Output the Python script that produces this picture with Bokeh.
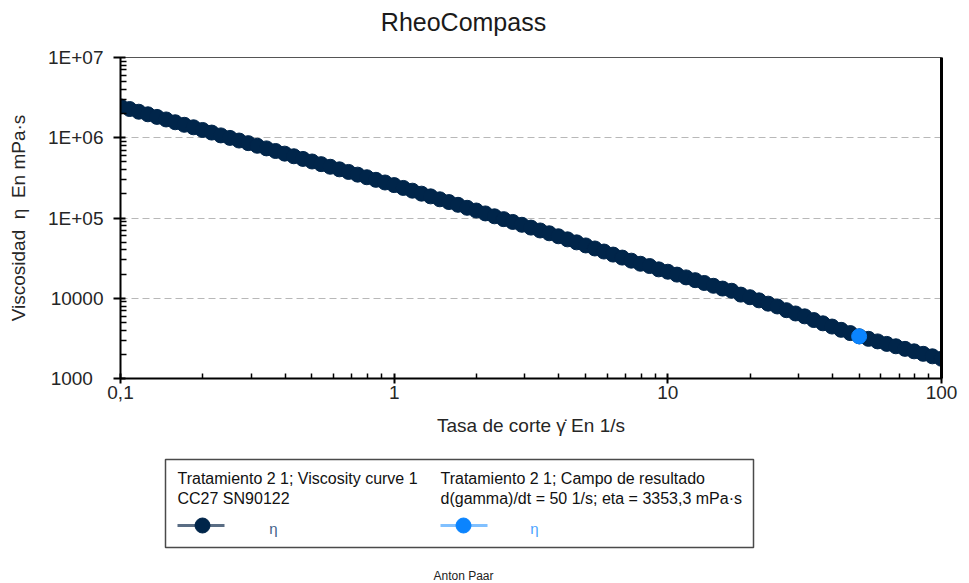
from bokeh.plotting import figure
from bokeh.models import FixedTicker, LogAxis, Range1d
from bokeh.layouts import column
from bokeh.core.properties import value
from bokeh.embed import file_html
from bokeh.resources import INLINE

# ---- data ----
shear_rate = [
    0.1, 0.108, 0.1166, 0.1259, 0.1359, 0.1468, 0.1585, 0.1711, 0.1848, 0.1995,
    0.2154, 0.2326, 0.2512, 0.2712, 0.2929, 0.3162, 0.3415, 0.3687, 0.3981, 0.4299,
    0.4642, 0.5012, 0.5412, 0.5843, 0.631, 0.6813, 0.7356, 0.7943, 0.8577, 0.9261,
    1.0, 1.08, 1.166, 1.259, 1.359, 1.468, 1.585, 1.711, 1.848, 1.995,
    2.154, 2.326, 2.512, 2.712, 2.929, 3.162, 3.415, 3.687, 3.981, 4.299,
    4.642, 5.012, 5.412, 5.843, 6.31, 6.813, 7.356, 7.943, 8.577, 9.261,
    10.0, 10.8, 11.66, 12.59, 13.59, 14.68, 15.85, 17.11, 18.48, 19.95,
    21.54, 23.26, 25.12, 27.12, 29.29, 31.62, 34.15, 36.87, 39.81, 42.99,
    46.42, 50.12, 54.12, 58.43, 63.1, 68.13, 73.56, 79.43, 85.77, 92.61, 100.0,
]
viscosity = [
    2460000, 2280000, 2110000, 1960000, 1820000, 1690000, 1560000, 1450000, 1350000, 1250000,
    1160000, 1070000, 996000, 923000, 857000, 794000, 737000, 684000, 634000, 588000,
    545000, 506000, 469000, 435000, 404000, 375000, 347000, 322000, 299000, 277000,
    257000, 237000, 219000, 201000, 186000, 171000, 158000, 146000, 134000, 124000,
    114000, 105000, 96800, 89300, 82300, 75900, 69900, 64500, 59200, 54200,
    49700, 45500, 41700, 38200, 35000, 32100, 29400, 26900, 25200, 22900,
    21400, 19700, 18200, 16800, 15500, 14300, 13200, 12400, 11100, 10300,
    9410, 8560, 7900, 7100, 6460, 5950, 5350, 4870, 4440, 4040,
    3680, 3350, 3120, 2900, 2700, 2520, 2340, 2180, 2030, 1890, 1760,
]
result_rate = [50.0]
result_visc = [3353.3]

x_ticks = [0.1, 1, 10, 100]
x_tick_labels = ["0,1", "1", "10", "100"]
y_ticks = [1000, 10000, 100000, 1000000, 10000000]
y_tick_labels = ["1000\u2007", "10000", "1E+05", "1E+06", "1E+07"]

title_text = "RheoCompass"
x_label = "Tasa de corte γ̇ En 1/s"
y_label = "Viscosidad\u00a0 η \u00a0En mPa·s"
legend_lines = ["Tratamiento 2 1; Viscosity curve 1", "CC27 SN90122",
                "Tratamiento 2 1; Campo de resultado",
                "d(gamma)/dt = 50 1/s; eta = 3353,3 mPa·s"]
legend_symbol = ["η", "η"]
footer = "Anton Paar"

NAVY = "#00254a"
BLUE = "#0b84fe"
FONT = "Liberation Sans"
TXT = "#262626"


def minor_for(ticks):
    out = []
    for t in ticks[:-1]:
        out += [t * m for m in range(2, 10)]
    return out


# ---- title strip (frame aligned with chart frame: x 120..941) ----
t = figure(width=969, height=45, x_range=Range1d(120, 941), y_range=Range1d(45, 0),
           output_backend="svg", toolbar_location=None, tools="",
           x_axis_location=None, y_axis_location=None, min_border=0)
t.grid.visible = False
t.outline_line_color = None
t.text(x=[463], y=[21], text=[title_text], text_font=value(FONT),
       text_font_size="25px", text_color="#1a1a1a", text_baseline="middle",
       text_align="center")

# ---- main chart ----
p = figure(width=969, height=400, x_axis_type="log", y_axis_type="log",
           x_range=Range1d(0.1, 100), y_range=Range1d(1000, 1e7),
           output_backend="svg", toolbar_location=None, tools="",
           min_border_left=120, min_border_right=28, min_border_top=12,
           min_border_bottom=67)
p.outline_line_color = "#555555"
p.outline_line_width = 1
p.background_fill_color = "white"
p.border_fill_color = "white"

xa = p.xaxis[0]
xa.ticker = FixedTicker(ticks=x_ticks, minor_ticks=minor_for(x_ticks))
xa.major_label_overrides = {v: l for v, l in zip(x_ticks, x_tick_labels)}
ya = p.yaxis[0]
ya.ticker = FixedTicker(ticks=y_ticks, minor_ticks=minor_for(y_ticks))
ya.major_label_overrides = {v: l for v, l in zip(y_ticks, y_tick_labels)}

for ax in (xa, ya):
    ax.axis_line_color = "black"
    ax.axis_line_width = 2
    ax.major_tick_line_color = "black"
    ax.major_tick_line_width = 2
    ax.minor_tick_line_color = "black"
    ax.minor_tick_line_width = 1.5
    ax.major_label_text_font = FONT
    ax.major_label_text_font_size = "19px"
    ax.major_label_text_color = TXT
    ax.axis_label_text_font = FONT
    ax.axis_label_text_font_size = "19px"
    ax.axis_label_text_font_style = "normal"
    ax.axis_label_text_color = TXT

xa.axis_label = x_label
xa.major_tick_out = 5
xa.major_tick_in = 5
xa.minor_tick_out = 0
xa.minor_tick_in = 5
xa.major_label_standoff = 2
xa.axis_label_standoff = 13

ya.axis_label = y_label
ya.major_tick_out = 7
ya.major_tick_in = 5
ya.minor_tick_out = 0
ya.minor_tick_in = 6
ya.major_label_standoff = 10
ya.axis_label_standoff = 16

right_ax = LogAxis(ticker=FixedTicker(ticks=[]), axis_line_color="black",
                   axis_line_width=3, major_tick_line_color=None,
                   minor_tick_line_color=None, major_label_text_font_size="0px")
p.add_layout(right_ax, "right")

p.xgrid.visible = False
p.ygrid.grid_line_color = "#b8b8b8"
p.ygrid.grid_line_dash = "7 4"
p.ygrid.grid_line_width = 1

p.line(shear_rate, viscosity, line_color=NAVY, line_width=2)
p.scatter(shear_rate, viscosity, size=15, fill_color=NAVY, line_color=NAVY)
p.scatter(result_rate, result_visc, size=15, fill_color=BLUE, line_color=BLUE)

# ---- legend / footer panel ----
q = figure(width=969, height=138, x_range=Range1d(120, 941), y_range=Range1d(583, 445),
           output_backend="svg", toolbar_location=None, tools="",
           x_axis_location=None, y_axis_location=None, min_border=0)
q.grid.visible = False
q.outline_line_color = None

q.quad(left=[165], right=[753], top=[459], bottom=[547], fill_color=None,
       line_color="#4a4a4a", line_width=1.5)
q.text(x=[177, 177, 440, 440], y=[478, 498, 478, 498], text=legend_lines,
       text_font=value(FONT), text_font_size="16px", text_color="#111111",
       text_baseline="middle", text_align="left")
q.segment(x0=[177, 440], y0=[525, 525], x1=[224, 487], y1=[525, 525],
          line_color=["#5a6d84", "#80c0ff"], line_width=3)
q.scatter(x=[202, 463], y=[525, 525], size=15, fill_color=[NAVY, BLUE],
          line_color=[NAVY, BLUE])
q.text(x=[273, 534], y=[528, 528], text=legend_symbol, text_font=value(FONT),
       text_font_size="15px", text_color=["#3f5f88", "#4aa3ff"],
       text_baseline="middle", text_align="center")
q.text(x=[463], y=[575], text=[footer], text_font=value(FONT),
       text_font_size="12px", text_color="#222222", text_baseline="middle",
       text_align="center")

layout = column(t, p, q, spacing=0)
open("out.html", "w").write(file_html(layout, INLINE))
